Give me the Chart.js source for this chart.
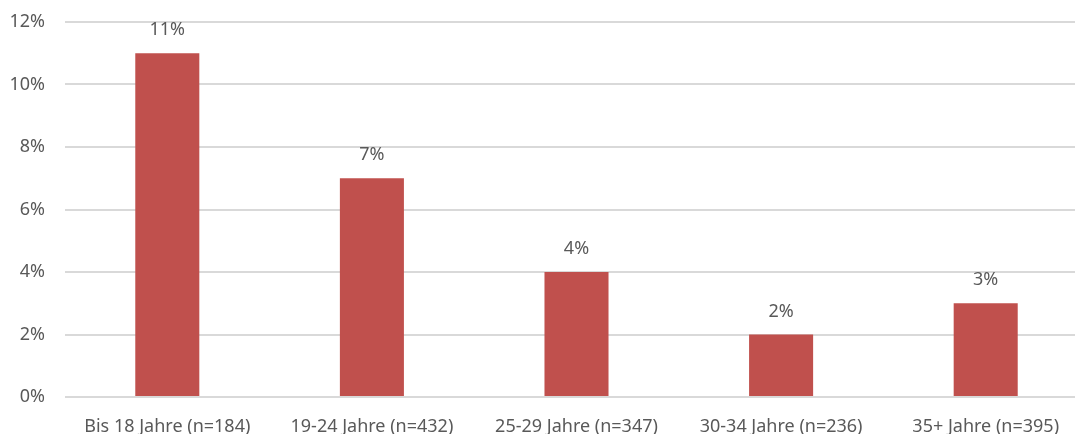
<!DOCTYPE html>
<html>
<head>
<meta charset="utf-8">
<script src="https://cdn.jsdelivr.net/npm/chart.js@4/dist/chart.umd.min.js"></script>
<style>
  html, body { margin: 0; padding: 0; background: #ffffff; overflow: hidden; }
  #wrap { width: 1088px; height: 434px; position: relative; }
</style>
</head>
<body>
<div id="wrap"><canvas id="chart"></canvas></div>
<script>
// Altersgruppen und Anteile (in Prozent)
const categories = ['Bis 18 Jahre (n=184)', '19-24 Jahre (n=432)', '25-29 Jahre (n=347)', '30-34 Jahre (n=236)', '35+ Jahre (n=395)'];
const shares = [11, 7, 4, 2, 3];
const yTicks = [0, 2, 4, 6, 8, 10, 12];

const FONT = "'Noto Sans', 'Open Sans', sans-serif";
const TEXT = '#595959';

// Prozentwerte über den Balken
const valueLabels = {
  id: 'valueLabels',
  afterDatasetsDraw(chart) {
    const ctx = chart.ctx;
    const meta = chart.getDatasetMeta(0);
    ctx.save();
    ctx.font = '18px ' + FONT;
    ctx.fillStyle = TEXT;
    ctx.textAlign = 'center';
    ctx.textBaseline = 'alphabetic';
    meta.data.forEach((bar, i) => {
      ctx.fillText(shares[i] + '%', bar.x, bar.y - 18);
    });
    ctx.restore();
  }
};

new Chart(document.getElementById('chart'), {
  type: 'bar',
  data: {
    labels: categories,
    datasets: [{
      data: shares,
      backgroundColor: '#C0504D',
      borderWidth: 0,
      categoryPercentage: 1,
      barPercentage: 0.313
    }]
  },
  options: {
    responsive: true,
    maintainAspectRatio: false,
    animation: false,
    layout: { padding: { top: 22, right: 0, bottom: 0, left: 0 } },
    plugins: { legend: { display: false }, tooltip: { enabled: false } },
    scales: {
      x: {
        grid: { display: false },
        border: { display: false },
        afterFit(axis) { axis.height = 37; },
        ticks: { color: TEXT, font: { family: FONT, size: 18 }, padding: 11, maxRotation: 0 }
      },
      y: {
        min: 0,
        max: 12,
        afterBuildTicks(axis) { axis.ticks = yTicks.map(v => ({ value: v })); },
        afterFit(axis) { axis.width = 65; axis.paddingTop = 0; axis.paddingBottom = 0; },
        grid: { color: '#d9d9d9', lineWidth: 2, drawTicks: false },
        border: { display: false },
        ticks: {
          color: TEXT,
          font: { family: FONT, size: 18 },
          padding: 20,
          callback: v => v + '%'
        }
      }
    }
  },
  plugins: [valueLabels]
});
</script>
</body>
</html>
